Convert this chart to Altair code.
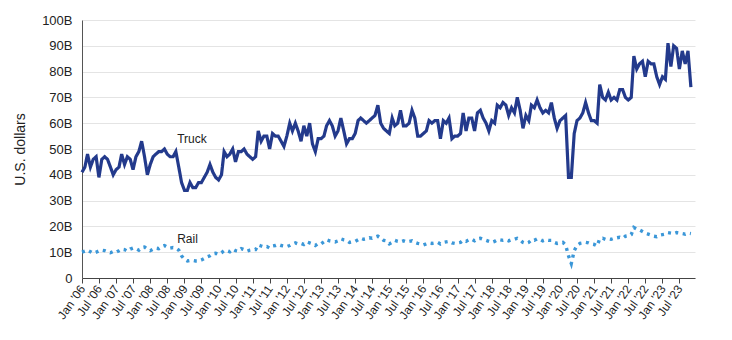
import altair as alt
import pandas as pd

# Monthly values, Jan 2006 .. Nov 2023, billions of U.S. dollars
start_month = "2006-01-01"

truck = [
    41, 43, 48, 43, 46, 47, 39, 46, 47, 46, 43, 40,   # 2006
    42, 43, 48, 44, 47, 46, 42, 47, 49, 53, 47, 40,   # 2007
    44, 47, 48, 49, 49, 50, 48, 47, 47, 49, 43, 37,   # 2008
    34, 34, 37, 35, 35, 37, 37, 39, 41, 44, 41, 39,   # 2009
    38, 40, 49, 47, 48, 50, 45, 49, 49, 50, 48, 47,   # 2010
    46, 47, 57, 53, 55, 55, 50, 56, 55, 55, 53, 51,   # 2011
    55, 60, 57, 60, 57, 53, 59, 55, 60, 52, 49, 54,   # 2012
    54, 55, 59, 61, 59, 55, 57, 62, 57, 52, 54, 54,   # 2013
    56, 61, 62, 61, 60, 61, 62, 63, 67, 60, 58, 57,   # 2014
    56, 62, 59, 60, 65, 59, 59, 60, 65, 62, 55, 55,   # 2015
    56, 57, 61, 60, 61, 61, 54, 61, 60, 62, 54, 55,   # 2016
    55, 56, 64, 57, 62, 62, 57, 64, 65, 62, 60, 57,   # 2017
    61, 60, 67, 66, 68, 67, 63, 66, 64, 70, 65, 58,   # 2018
    63, 61, 67, 66, 69, 66, 64, 65, 64, 68, 62, 58,   # 2019
    61, 62, 63, 39, 39, 56, 61, 62, 64, 68, 64, 61,   # 2020
    61, 60, 75, 70, 69, 72, 69, 70, 69, 73, 73, 70,   # 2021
    69, 70, 86, 81, 83, 84, 78, 84, 83, 83, 78, 75,   # 2022
    78, 77, 91, 82, 90, 89, 81, 88, 83, 88, 74,       # 2023
]

rail = [
    10.0, 10.4, 10.8, 10.2, 9.6, 10.0, 10.5, 10.8, 10.6, 10.2, 9.8, 10.3,   # 2006
    10.0, 10.6, 11.2, 11.0, 10.4, 11.2, 11.6, 11.4, 10.8, 11.8, 12.0, 11.2, # 2007
    10.6, 11.2, 11.6, 11.4, 12.2, 12.6, 12.0, 11.6, 11.8, 11.6, 10.8, 8.6,  # 2008
    7.2, 6.6, 6.8, 6.8, 6.6, 6.6, 7.0, 7.6, 8.2, 8.6, 9.4, 9.6,             # 2009
    9.2, 9.8, 10.6, 10.6, 10.2, 11.2, 10.6, 10.4, 11.4, 11.0, 10.4, 10.8,   # 2010
    11.0, 11.0, 12.8, 12.4, 12.0, 12.2, 11.6, 12.4, 12.6, 13.0, 12.6, 12.4, # 2011
    12.2, 12.6, 13.2, 13.6, 13.2, 13.4, 13.0, 14.0, 13.6, 13.2, 12.6, 13.4, # 2012
    13.2, 14.0, 14.8, 14.4, 14.2, 14.0, 14.4, 15.2, 14.8, 14.6, 13.8, 14.0, # 2013
    14.2, 14.8, 15.4, 15.0, 15.2, 15.6, 15.4, 15.8, 16.2, 15.6, 14.6, 14.4, # 2014
    13.2, 13.8, 14.6, 14.2, 14.0, 14.4, 14.0, 14.2, 14.4, 13.8, 13.4, 13.2, # 2015
    12.8, 13.2, 13.6, 13.4, 13.6, 13.8, 13.2, 13.8, 14.0, 14.2, 13.6, 13.4, # 2016
    13.6, 13.8, 14.6, 14.2, 14.8, 15.0, 14.4, 15.2, 15.4, 15.0, 14.6, 14.2, # 2017
    13.8, 14.2, 14.8, 14.8, 14.6, 14.8, 14.4, 14.8, 15.0, 15.4, 14.8, 13.8, # 2018
    13.4, 13.8, 14.8, 14.6, 15.2, 15.0, 14.4, 14.8, 14.6, 14.6, 13.8, 13.4, # 2019
    13.6, 13.8, 12.8, 8.6, 5.6, 10.6, 12.6, 13.4, 13.6, 13.8, 13.6, 13.2,   # 2020
    13.0, 12.4, 15.2, 15.4, 15.0, 15.2, 15.0, 15.4, 15.6, 15.8, 15.4, 16.2, # 2021
    16.4, 16.8, 19.6, 19.0, 18.6, 18.0, 17.4, 17.0, 16.6, 16.2, 16.0, 16.6, # 2022
    16.8, 17.0, 17.6, 17.4, 17.2, 17.6, 17.4, 17.2, 17.0, 17.4, 17.2,       # 2023
]

series_names = ["Truck", "Rail"]
series_colors = ["#233a8c", "#3b97d8"]

label_texts = ["Truck", "Rail"]
label_dates = ["2008-10-15", "2008-10-15"]
label_values = [54, 15]

y_ticks = [0, 10, 20, 30, 40, 50, 60, 70, 80, 90, 100]

dates = pd.date_range(start_month, periods=len(truck), freq="MS").strftime("%Y-%m-%d")
df = pd.concat([
    pd.DataFrame({"date": dates, "value": truck, "mode": "Truck"}),
    pd.DataFrame({"date": dates[:len(rail)], "value": rail, "mode": "Rail"}),
])
labels_df = pd.DataFrame({"date": label_dates, "value": label_values, "text": label_texts})

tick_dates = []
for yr in range(2006, 2024):
    tick_dates.append(alt.DateTime(year=yr, month=1, date=1, utc=True))
    tick_dates.append(alt.DateTime(year=yr, month=7, date=1, utc=True))

FONT = "Liberation Sans"

x_enc = alt.X(
    "date:T",
    scale=alt.Scale(
        type="utc",
        domain=[alt.DateTime(year=2006, month=1, date=1, utc=True),
                alt.DateTime(year=2023, month=12, date=15, utc=True)],
    ),
    axis=alt.Axis(
        values=tick_dates,
        labelExpr="utcFormat(datum.value, \"%b '%y\")",
        labelAngle=-55,
        labelAlign="right",
        labelBaseline="middle",
        labelFontSize=12,
        labelColor="#222222",
        labelPadding=3,
        tickSize=5,
        tickColor="#444444",
        domainColor="#444444",
        grid=False,
        title=None,
        labelOverlap=False,
    ),
)

y_enc = alt.Y(
    "value:Q",
    scale=alt.Scale(domain=[0, 100], nice=False),
    axis=alt.Axis(
        values=y_ticks,
        labelExpr="datum.value == 0 ? '0' : datum.value + 'B'",
        labelFontSize=13,
        labelColor="#222222",
        labelPadding=10,
        ticks=False,
        domainColor="#555555",
        grid=True,
        gridColor="#e4e4e4",
        title="U.S. dollars",
        titleFontSize=14,
        titleFontWeight="normal",
        titleColor="#222222",
        titlePadding=14,
        labelOverlap=False,
    ),
)

lines = alt.Chart(df).mark_line(strokeCap="butt").encode(
    x=x_enc,
    y=y_enc,
    color=alt.Color("mode:N", scale=alt.Scale(domain=series_names, range=series_colors), legend=None),
    strokeDash=alt.StrokeDash(
        "mode:N",
        scale=alt.Scale(domain=series_names, range=[[1, 0], [3, 4.5]]),
        legend=None,
    ),
    strokeWidth=alt.StrokeWidth(
        "mode:N",
        scale=alt.Scale(domain=series_names, range=[3.2, 3.4]),
        legend=None,
    ),
)

texts = alt.Chart(labels_df).mark_text(
    align="left", baseline="middle", fontSize=12, font=FONT, color="#222222"
).encode(
    x=x_enc,
    y=y_enc,
    text="text:N",
)

chart = alt.layer(lines, texts).properties(
    width=613,
    height=258,
    autosize=alt.AutoSizeParams(type="none"),
    padding={"left": 82, "top": 20, "right": 37, "bottom": 62},
).configure(
    font=FONT,
).configure_view(
    stroke=None,
)

chart.save("out.html", embed_options={"renderer": "svg", "actions": False})
